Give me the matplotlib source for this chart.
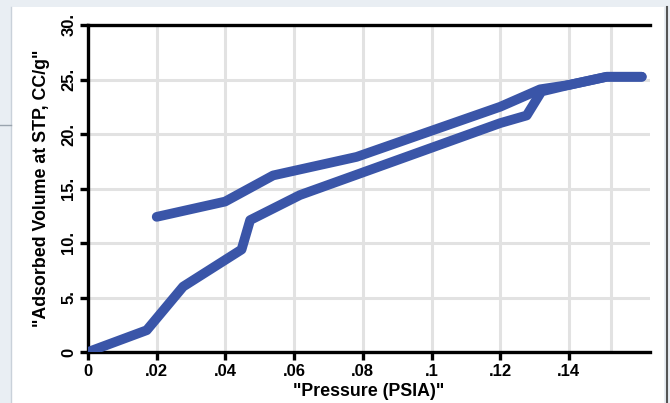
import matplotlib
matplotlib.use("Agg")
import matplotlib.pyplot as plt
from matplotlib.patches import Rectangle
from matplotlib.lines import Line2D

# adsorption branch (lower curve), pressure in PSIA, volume in CC/g
ads_p = [0.0, 0.0171, 0.0277, 0.0447, 0.0472, 0.0617, 0.120, 0.1277, 0.1320, 0.140, 0.151, 0.1612]
ads_v = [0.0, 2.0, 6.0, 9.4, 12.1, 14.4, 21.0, 21.7, 23.9, 24.5, 25.25, 25.25]

# desorption branch (upper curve)
des_p = [0.1612, 0.151, 0.140, 0.1316, 0.120, 0.0782, 0.0539, 0.0399, 0.0200]
des_v = [25.25, 25.25, 24.5, 24.1, 22.5, 17.9, 16.2, 13.8, 12.4]

x_ticks = [0, 0.02, 0.04, 0.06, 0.08, 0.10, 0.12, 0.14]
x_labels = ["0", ".02", ".04", ".06", ".08", ".1", ".12", ".14"]
y_ticks = [0, 5, 10, 15, 20, 25, 30]
y_labels = ["0", "5.", "10.", "15.", "20.", "25.", "30."]

line_color = "#3a55a8"
grid_color = "#e2e2e2"

plt.rcParams["font.family"] = ["Liberation Sans", "DejaVu Sans"]
plt.rcParams["font.weight"] = "bold"

fig = plt.figure(figsize=(6.7, 4.03), dpi=100)
fig.patch.set_facecolor("#e9eef3")

# white panel of the screenshot
W, H = 670.0, 403.0
fig.patches.append(Rectangle((12 / W, 0), (664 - 12) / W, (H - 7) / H,
                             transform=fig.transFigure, facecolor="white",
                             edgecolor="none", zorder=-2))
fig.lines.append(Line2D([11 / W, 11 / W], [0, (H - 7) / H], transform=fig.transFigure,
                        color="#c9d1da", lw=1.0, zorder=-1))
fig.lines.append(Line2D([667 / W, 667 / W], [0, (H - 7) / H], transform=fig.transFigure,
                        color="#555555", lw=1.5, zorder=-1))
fig.lines.append(Line2D([0, 11 / W], [1 - 125 / H, 1 - 125 / H], transform=fig.transFigure,
                        color="#9aa4ae", lw=1.0, zorder=-1))

ax = fig.add_axes([88 / W, 1 - 352 / H, (650 - 88) / W, (352 - 25) / H])
ax.set_facecolor("white")

ax.plot(ads_p, ads_v, color=line_color, lw=7, solid_capstyle="round",
        solid_joinstyle="round", zorder=3)
ax.plot(des_p, des_v, color=line_color, lw=7, solid_capstyle="round",
        solid_joinstyle="round", zorder=3)

ax.set_xlim(0, 0.1636)
ax.set_ylim(0, 30)

ax.set_xticks(x_ticks)
ax.set_xticklabels(x_labels, fontsize=12, fontweight="bold")
ax.set_yticks(y_ticks)
ax.set_yticklabels(y_labels, fontsize=12, fontweight="bold", rotation=90, va="center")

ax.grid(True, color=grid_color, lw=2.2, zorder=0)
ax.axvline(0.1523, color=grid_color, lw=2.2, zorder=0)
ax.set_axisbelow(True)

for side in ["left", "bottom", "top"]:
    ax.spines[side].set_linewidth(2.4)
    ax.spines[side].set_color("black")
ax.spines["right"].set_visible(False)

ax.tick_params(axis="both", direction="out", length=6, width=2.4, color="black", pad=2.5)

ax.set_xlabel('"Pressure (PSIA)"', fontsize=12.8, fontweight="bold", labelpad=3)
ax.set_ylabel('"Adsorbed Volume at STP, CC/g"', fontsize=12.8, fontweight="bold", labelpad=8)

fig.savefig("out.png", dpi=100)
